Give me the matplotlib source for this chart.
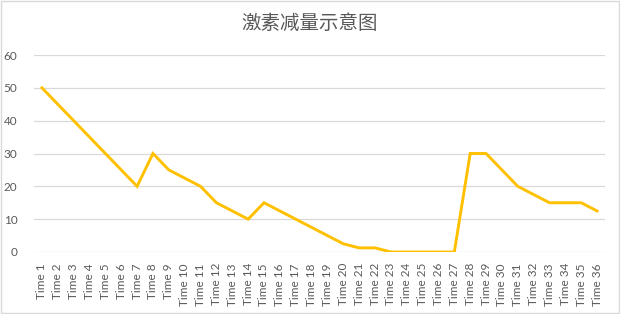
import matplotlib
matplotlib.use("Agg")
import matplotlib.pyplot as plt
from matplotlib.patches import Rectangle

categories = [f"Time {i}" for i in range(1, 37)]
values = [50, 45, 40, 35, 30, 25, 20, 30, 25, 22.5, 20, 15, 12.5, 10, 15, 12.5,
          10, 7.5, 5, 2.5, 1.25, 1.25, 0, 0, 0, 0, 0, 30, 30, 25, 20, 17.5,
          15, 15, 15, 12.5]
yticks = [0, 10, 20, 30, 40, 50, 60]
title = "激素减量示意图"

plt.rcParams['font.family'] = ['Lato', 'Noto Sans CJK SC', 'DejaVu Sans']

fig = plt.figure(figsize=(6.2, 3.14), dpi=100)
ax = fig.add_axes([34/620, 1-252/314, (605-34)/620, (252-55)/314])

x = list(range(len(categories)))
ax.plot(x, values, color='#FFC000', lw=2.1, solid_joinstyle='miter', zorder=3)

ax.set_xlim(-0.5, len(categories)-0.5)
ax.set_ylim(0, 60)
ax.set_yticks(yticks)
ax.set_yticklabels([str(v) for v in yticks])
ax.set_xticks(x)
ax.set_xticklabels(categories, rotation=90)
ax.tick_params(axis='both', length=0, labelsize=8.5, colors='#595959')
ax.tick_params(axis='y', pad=12)
ax.tick_params(axis='x', pad=8)
ax.grid(axis='y', color='#D9D9D9', lw=0.9)
ax.set_axisbelow(True)
for s in ax.spines.values():
    s.set_visible(False)

fig.text(0.5, 1-23/314, title, ha='center', va='center', fontsize=14,
         color='#595959', family=['Noto Sans CJK SC', 'DejaVu Sans'], fontweight='light')

fig.patches.append(Rectangle((0.002, 0.003), 0.996, 0.994, transform=fig.transFigure,
                             fill=False, edgecolor='#D9D9D9', lw=1))

fig.savefig("out.png", dpi=100)
